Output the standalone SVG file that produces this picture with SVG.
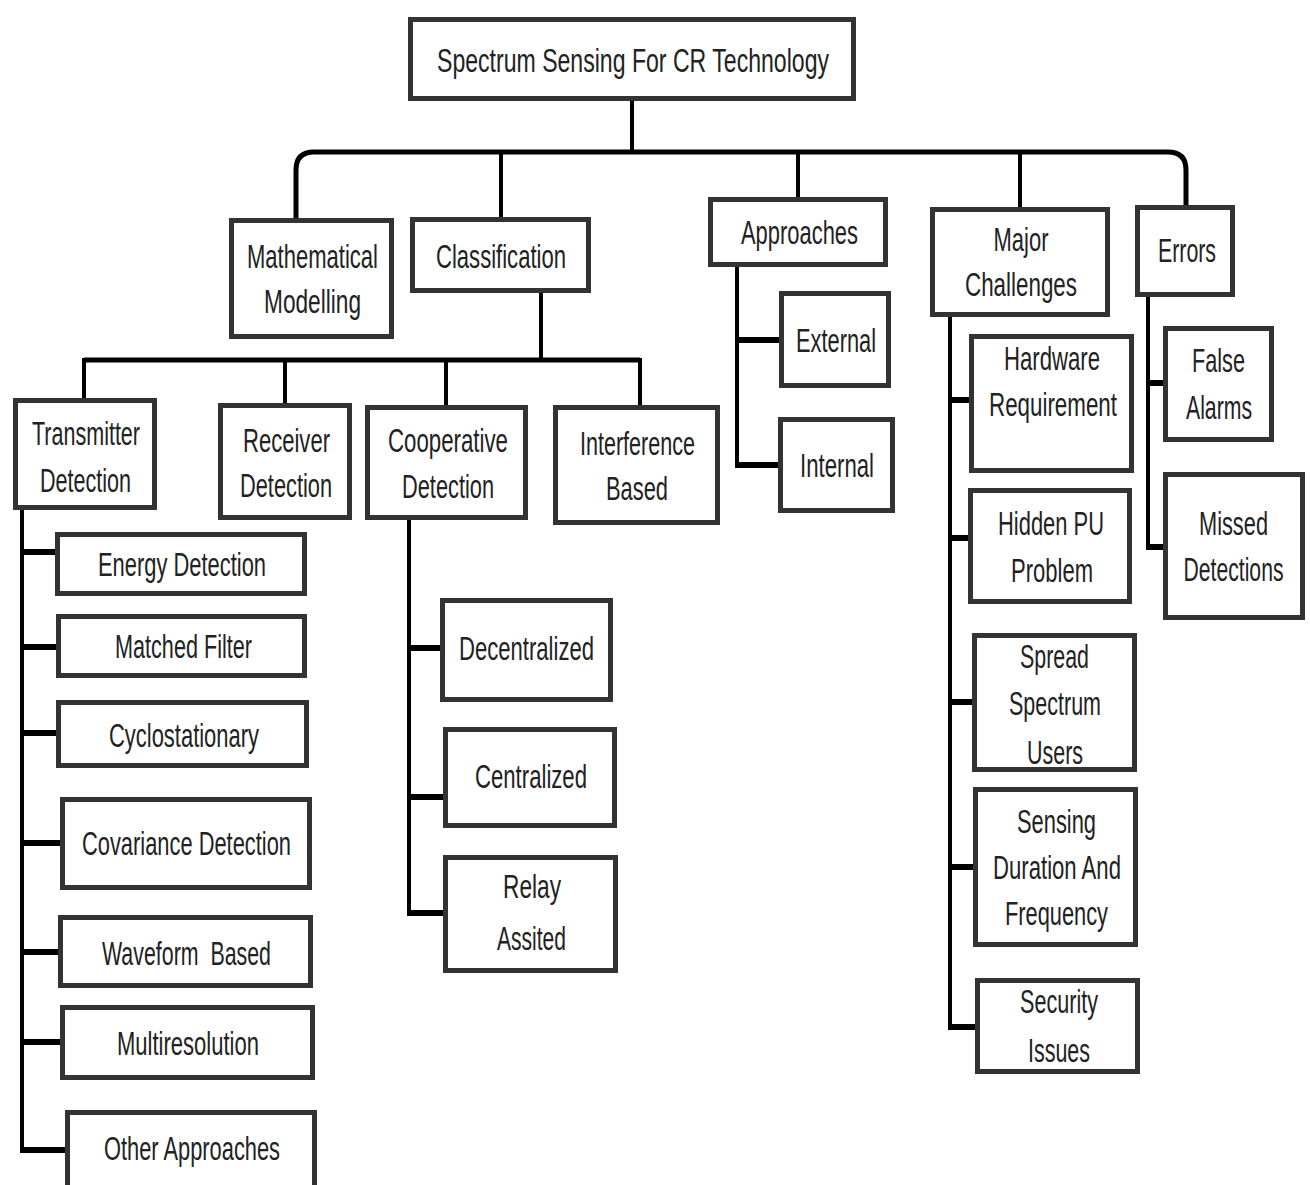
<svg xmlns="http://www.w3.org/2000/svg" width="1310" height="1185" viewBox="0 0 1310 1185">
<style>
.box{fill:#fff;stroke:#333;stroke-width:5}
.t{font-family:"Liberation Sans",Arial,sans-serif;font-size:34px;fill:#222;text-anchor:middle}
.ln{fill:none;stroke:#000;stroke-width:4;stroke-linecap:square}
.stub{fill:none;stroke:#000;stroke-width:6}
.bus{fill:none;stroke:#000;stroke-width:5}
</style>
<rect width="1310" height="1185" fill="#fff"/>
<g id="connectors">
<path class="ln" d="M632,101 V152"/>
<path class="bus" d="M296,218 V170 Q296,152 314,152 H1168 Q1186,152 1186,170 V205"/>
<path class="ln" d="M501,152 V217 M798,152 V197 M1020,152 V207"/>
<path class="ln" d="M541,293 V360"/>
<path class="bus" d="M84,360 H640"/>
<path class="ln" d="M84,360 V398 M285,360 V403 M446,360 V405 M640,360 V405"/>
<path class="ln" d="M22,510 V1150"/>
<path class="stub" d="M20,552 H57 M20,647 H58 M20,733 H58 M20,843 H62 M20,952 H60 M20,1042 H62 M20,1150 H67"/>
<path class="ln" d="M409,520 V913"/>
<path class="stub" d="M407,648 H442 M407,797 H445 M407,913 H445"/>
<path class="ln" d="M737,267 V465"/>
<path class="stub" d="M735,340 H781 M735,465 H780"/>
<path class="ln" d="M950,317 V1027"/>
<path class="stub" d="M948,400 H971 M948,538 H970 M948,702 H974 M948,867 H975 M948,1027 H977"/>
<path class="ln" d="M1148,297 V547"/>
<path class="stub" d="M1146,383 H1165 M1146,547 H1165"/>
</g>
<g id="root"><rect class="box" x="410.5" y="19.5" width="443" height="79"/><text class="t" x="633" y="72" textLength="392" lengthAdjust="spacingAndGlyphs">Spectrum Sensing For CR Technology</text></g>
<g id="math"><rect class="box" x="231.5" y="220.5" width="160" height="116"/><text class="t" x="312.5" y="268" textLength="131" lengthAdjust="spacingAndGlyphs">Mathematical</text><text class="t" x="312.5" y="313" textLength="97" lengthAdjust="spacingAndGlyphs">Modelling</text></g>
<g id="classification"><rect class="box" x="412.5" y="219.5" width="176" height="71"/><text class="t" x="501" y="268" textLength="130" lengthAdjust="spacingAndGlyphs">Classification</text></g>
<g id="approaches"><rect class="box" x="710.5" y="199.5" width="175" height="65"/><text class="t" x="799.5" y="244" textLength="117" lengthAdjust="spacingAndGlyphs">Approaches</text></g>
<g id="major"><rect class="box" x="932.5" y="209.5" width="175" height="105"/><text class="t" x="1021" y="251" textLength="55" lengthAdjust="spacingAndGlyphs">Major</text><text class="t" x="1021" y="296" textLength="112" lengthAdjust="spacingAndGlyphs">Challenges</text></g>
<g id="errors"><rect class="box" x="1137.5" y="207.5" width="95" height="87"/><text class="t" x="1187" y="262" textLength="58" lengthAdjust="spacingAndGlyphs">Errors</text></g>
<g id="transmitter"><rect class="box" x="15.5" y="400.5" width="139" height="107"/><text class="t" x="86" y="445" textLength="108" lengthAdjust="spacingAndGlyphs">Transmitter</text><text class="t" x="85.5" y="492" textLength="91" lengthAdjust="spacingAndGlyphs">Detection</text></g>
<g id="receiver"><rect class="box" x="220.5" y="405.5" width="129" height="112"/><text class="t" x="286.5" y="452" textLength="87" lengthAdjust="spacingAndGlyphs">Receiver</text><text class="t" x="286" y="497" textLength="92" lengthAdjust="spacingAndGlyphs">Detection</text></g>
<g id="cooperative"><rect class="box" x="367.5" y="407.5" width="158" height="110"/><text class="t" x="448" y="452" textLength="120" lengthAdjust="spacingAndGlyphs">Cooperative</text><text class="t" x="448" y="498" textLength="92" lengthAdjust="spacingAndGlyphs">Detection</text></g>
<g id="interference"><rect class="box" x="555.5" y="407.5" width="162" height="115"/><text class="t" x="637.5" y="455" textLength="115" lengthAdjust="spacingAndGlyphs">Interference</text><text class="t" x="637" y="500" textLength="62" lengthAdjust="spacingAndGlyphs">Based</text></g>
<g id="energy"><rect class="box" x="57.5" y="534.5" width="247" height="59"/><text class="t" x="182" y="576" textLength="168" lengthAdjust="spacingAndGlyphs">Energy Detection</text></g>
<g id="matched"><rect class="box" x="58.5" y="616.5" width="246" height="59"/><text class="t" x="183.5" y="658" textLength="137" lengthAdjust="spacingAndGlyphs">Matched Filter</text></g>
<g id="cyclo"><rect class="box" x="58.5" y="702.5" width="248" height="63"/><text class="t" x="184" y="747" textLength="150" lengthAdjust="spacingAndGlyphs">Cyclostationary</text></g>
<g id="covariance"><rect class="box" x="62.5" y="799.5" width="247" height="88"/><text class="t" x="186.5" y="855" textLength="209" lengthAdjust="spacingAndGlyphs">Covariance Detection</text></g>
<g id="waveform"><rect class="box" x="60.5" y="917.5" width="250" height="68"/><text class="t" x="186.5" y="965" textLength="169" lengthAdjust="spacingAndGlyphs" style="white-space:pre">Waveform  Based</text></g>
<g id="multires"><rect class="box" x="62.5" y="1007.5" width="250" height="70"/><text class="t" x="188" y="1055" textLength="142" lengthAdjust="spacingAndGlyphs">Multiresolution</text></g>
<g id="other"><rect class="box" x="67.5" y="1112.5" width="247" height="90"/><text class="t" x="192" y="1160" textLength="176" lengthAdjust="spacingAndGlyphs">Other Approaches</text></g>
<g id="decentralized"><rect class="box" x="442.5" y="600.5" width="168" height="99"/><text class="t" x="526.5" y="660" textLength="135" lengthAdjust="spacingAndGlyphs">Decentralized</text></g>
<g id="centralized"><rect class="box" x="445.5" y="729.5" width="169" height="96"/><text class="t" x="531" y="788" textLength="112" lengthAdjust="spacingAndGlyphs">Centralized</text></g>
<g id="relay"><rect class="box" x="445.5" y="857.5" width="170" height="113"/><text class="t" x="532" y="898" textLength="58" lengthAdjust="spacingAndGlyphs">Relay</text><text class="t" x="531.5" y="950" textLength="69" lengthAdjust="spacingAndGlyphs">Assited</text></g>
<g id="external"><rect class="box" x="781.5" y="293.5" width="107" height="92"/><text class="t" x="836" y="352" textLength="80" lengthAdjust="spacingAndGlyphs">External</text></g>
<g id="internal"><rect class="box" x="780.5" y="419.5" width="112" height="91"/><text class="t" x="837" y="477" textLength="74" lengthAdjust="spacingAndGlyphs">Internal</text></g>
<g id="hardware"><rect class="box" x="971.5" y="336.5" width="160" height="134"/><text class="t" x="1052" y="370" textLength="96" lengthAdjust="spacingAndGlyphs">Hardware</text><text class="t" x="1053" y="416" textLength="128" lengthAdjust="spacingAndGlyphs">Requirement</text></g>
<g id="hidden"><rect class="box" x="970.5" y="490.5" width="159" height="111"/><text class="t" x="1051" y="535" textLength="106" lengthAdjust="spacingAndGlyphs">Hidden PU</text><text class="t" x="1052" y="582" textLength="82" lengthAdjust="spacingAndGlyphs">Problem</text></g>
<g id="spread"><rect class="box" x="974.5" y="635.5" width="160" height="134"/><text class="t" x="1054.5" y="668" textLength="69" lengthAdjust="spacingAndGlyphs">Spread</text><text class="t" x="1055" y="715" textLength="92" lengthAdjust="spacingAndGlyphs">Spectrum</text><text class="t" x="1055" y="764" textLength="56" lengthAdjust="spacingAndGlyphs">Users</text></g>
<g id="sensing"><rect class="box" x="975.5" y="789.5" width="160" height="155"/><text class="t" x="1056.5" y="833" textLength="79" lengthAdjust="spacingAndGlyphs">Sensing</text><text class="t" x="1057" y="879" textLength="128" lengthAdjust="spacingAndGlyphs">Duration And</text><text class="t" x="1056.5" y="925" textLength="103" lengthAdjust="spacingAndGlyphs">Frequency</text></g>
<g id="security"><rect class="box" x="977.5" y="980.5" width="160" height="91"/><text class="t" x="1059" y="1013" textLength="78" lengthAdjust="spacingAndGlyphs">Security</text><text class="t" x="1059" y="1062" textLength="62" lengthAdjust="spacingAndGlyphs">Issues</text></g>
<g id="false"><rect class="box" x="1165.5" y="328.5" width="106" height="111"/><text class="t" x="1218.5" y="372" textLength="53" lengthAdjust="spacingAndGlyphs">False</text><text class="t" x="1219" y="419" textLength="66" lengthAdjust="spacingAndGlyphs">Alarms</text></g>
<g id="missed"><rect class="box" x="1165.5" y="474.5" width="137" height="143"/><text class="t" x="1233.5" y="535" textLength="69" lengthAdjust="spacingAndGlyphs">Missed</text><text class="t" x="1233.5" y="581" textLength="100" lengthAdjust="spacingAndGlyphs">Detections</text></g>
</svg>
